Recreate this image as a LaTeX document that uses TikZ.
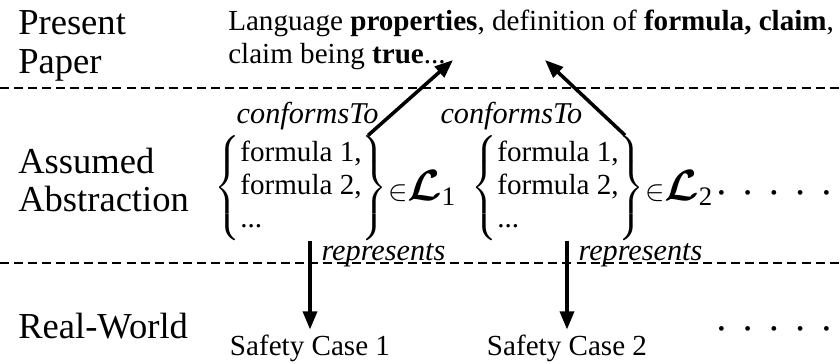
\documentclass[tikz,border=0pt]{standalone}
\usepackage{amsmath,amssymb,bm}
\usepackage{fontspec}
\setmainfont{Liberation Serif}
\usetikzlibrary{arrows.meta,positioning}

\begin{document}
\begin{tikzpicture}[x=0.025cm,y=-0.025cm,
    layer/.style={anchor=west,align=left,inner sep=0pt,
      font=\fontsize{26}{27.5}\selectfont},
    body/.style={font=\fontsize{20.7}{23.5}\selectfont},
    rel/.style={inner sep=0.5pt,font=\fontsize{21.5}{23.5}\selectfont\itshape},
    arr/.style={-{Triangle[length=13pt,width=10pt]},line width=2.5pt},
    sep/.style={dash pattern=on 6.4pt off 3.6pt,line width=0.9pt}]
  % page frame = reference size (840 x 363 px, y grows downward)
  \useasboundingbox (0,0) rectangle (840,363);
  % level separators
  \draw[sep] (0,88) -- (840,88);
  \draw[sep] (0,263) -- (840,263);
  % level names (left column)
  \node[layer] (paper) at (18,46) {Present\\Paper};
  \node[layer] (abstr) at (18,180) {Assumed\\Abstraction};
  \node[layer,anchor=base west] (world) at (18,338) {Real-World};
  % top level: what this paper defines
  \node[body,anchor=west,align=left,inner sep=0pt] (spec) at (228,40)
    {Language \textbf{properties}, definition of \textbf{formula, claim},\\
     claim being \textbf{true}...};
  \coordinate (tip1) at (453,60);
  \coordinate (tip2) at (545,60);
  % middle level: sets of formulas in two languages
  \node[body,inner sep=0pt] (set1) at (301,188)
    {$\left\{\begin{tabular}{@{}l@{}}formula 1,\\formula 2,\\...\end{tabular}\right\}$};
  \node[body,inner sep=0pt,right=0pt of set1] (lang1)
    {$\mathord{\in}\scalebox{1.5}{$\boldsymbol{\mathcal{L}}$}$\raisebox{-4pt}{\fontsize{19}{20}\selectfont 1}};
  \node[body,inner sep=0pt] (set2) at (558,188)
    {$\left\{\begin{tabular}{@{}l@{}}formula 1,\\formula 2,\\...\end{tabular}\right\}$};
  \node[body,inner sep=0pt,right=0pt of set2] (lang2)
    {$\mathord{\in}\scalebox{1.5}{$\boldsymbol{\mathcal{L}}$}$\raisebox{-4pt}{\fontsize{19}{20}\selectfont 2}};
  \node[body,inner sep=0pt] (more1) at (774,197)
    {\textbf{·}\hspace{0.57em}\textbf{·}\hspace{0.57em}\textbf{·}\hspace{0.57em}\textbf{·}\hspace{0.57em}\textbf{·}};
  % bottom level: real safety cases
  \node[body,anchor=base] (sc1) at (310,355) {Safety Case 1};
  \node[body,anchor=base] (sc2) at (567,355) {Safety Case 2};
  \node[body,inner sep=0pt] (more2) at (774,333)
    {\textbf{·}\hspace{0.57em}\textbf{·}\hspace{0.57em}\textbf{·}\hspace{0.57em}\textbf{·}\hspace{0.57em}\textbf{·}};
  % conformsTo arrows (up to the paper)
  \draw[arr] ([xshift=-14pt]set1.north east) -- (tip1)
    node[rel,pos=0.25,left=6pt] {conformsTo};
  \draw[arr] ([xshift=-14pt]set2.north east) -- (tip2)
    node[rel,pos=0.25,left=14.5pt] {conformsTo};
  % represents arrows (down to the real world)
  \draw[arr] (sc1.north |- set1.south) -- (sc1.north)
    node[rel,pos=0.16,right=6.5pt] {represents};
  \draw[arr] (sc2.north |- set2.south) -- (sc2.north)
    node[rel,pos=0.16,right=6.5pt] {represents};
\end{tikzpicture}
\end{document}
